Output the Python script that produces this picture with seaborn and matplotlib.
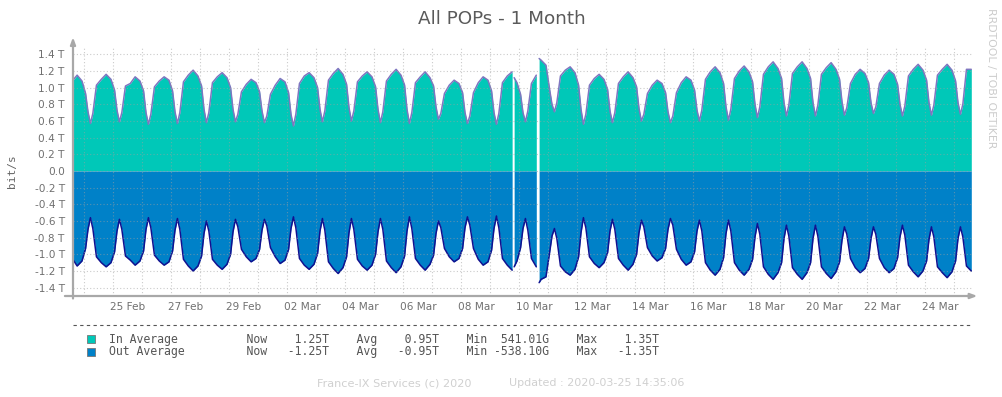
import numpy as np
import pandas as pd
import matplotlib
matplotlib.use("Agg")
import matplotlib.pyplot as plt
import matplotlib.dates as mdates
from matplotlib.lines import Line2D
from matplotlib.patches import Rectangle
import seaborn as sns

# sample hours inside each day
HOURS = [1, 3, 5, 7, 10, 14, 18, 22]

# first partial day (Feb 23) and last partial day (Mar 25)
FIRST_DAY = "2020-02-23"
FIRST_HOURS = [14, 18, 22]
IN_FIRST = [1.08, 1.15, 1.08]
OUT_FIRST = [-1.05, -1.14, -1.08]

LAST_DAY = "2020-03-25"
LAST_HOURS = [1, 3, 5, 7, 10, 14]
IN_LAST = [1.08, 0.82, 0.68, 0.80, 1.22, 1.22]
OUT_LAST = [-1.08, -0.81, -0.67, -0.79, -1.14, -1.20]

# full days Feb 24 .. Mar 24, values in Tbit/s
FULL_DAYS = pd.date_range("2020-02-24", "2020-03-24", freq="D")
IN_DAYS = [
    [0.93, 0.71, 0.57, 0.69, 1.03, 1.10, 1.16, 1.10],  # 24 Feb
    [0.97, 0.73, 0.59, 0.70, 1.02, 1.05, 1.13, 1.08],
    [0.96, 0.70, 0.56, 0.68, 1.01, 1.08, 1.13, 1.09],
    [0.96, 0.71, 0.57, 0.70, 1.07, 1.15, 1.21, 1.14],
    [1.02, 0.74, 0.58, 0.70, 1.06, 1.13, 1.18, 1.12],
    [1.00, 0.74, 0.59, 0.68, 0.95, 1.04, 1.10, 1.06],  # 29 Feb
    [0.95, 0.72, 0.58, 0.66, 0.92, 1.03, 1.11, 1.07],
    [0.94, 0.68, 0.54, 0.68, 1.05, 1.14, 1.18, 1.12],
    [1.00, 0.74, 0.59, 0.72, 1.09, 1.17, 1.23, 1.16],
    [1.04, 0.76, 0.60, 0.72, 1.07, 1.14, 1.19, 1.13],
    [1.01, 0.74, 0.58, 0.71, 1.08, 1.16, 1.22, 1.15],  # 05 Mar
    [1.03, 0.74, 0.57, 0.70, 1.06, 1.13, 1.19, 1.12],
    [1.02, 0.77, 0.62, 0.69, 0.93, 1.03, 1.09, 1.05],
    [0.94, 0.70, 0.57, 0.66, 0.94, 1.06, 1.13, 1.09],
    [0.96, 0.70, 0.56, 0.69, 1.06, 1.14, 1.19, 1.06],
    [0.92, 0.70, 0.59, 0.72, 1.05, 1.15, 1.33, 1.27],  # 10 Mar
    [0.98, 0.80, 0.71, 0.82, 1.14, 1.21, 1.25, 1.18],
    [1.03, 0.74, 0.56, 0.68, 1.03, 1.11, 1.16, 1.10],
    [0.98, 0.72, 0.58, 0.70, 1.05, 1.13, 1.19, 1.12],
    [1.01, 0.75, 0.60, 0.68, 0.93, 1.03, 1.09, 1.05],
    [0.94, 0.71, 0.58, 0.66, 0.94, 1.06, 1.13, 1.09],  # 15 Mar
    [0.97, 0.73, 0.60, 0.73, 1.10, 1.19, 1.25, 1.18],
    [1.05, 0.77, 0.61, 0.74, 1.11, 1.20, 1.26, 1.19],
    [1.07, 0.80, 0.64, 0.77, 1.16, 1.25, 1.31, 1.23],
    [1.11, 0.82, 0.66, 0.79, 1.17, 1.25, 1.31, 1.23],
    [1.11, 0.82, 0.66, 0.79, 1.16, 1.24, 1.30, 1.22],  # 20 Mar
    [1.10, 0.83, 0.67, 0.76, 1.05, 1.16, 1.22, 1.17],
    [1.06, 0.82, 0.69, 0.77, 1.05, 1.15, 1.21, 1.16],
    [1.04, 0.80, 0.66, 0.78, 1.14, 1.22, 1.28, 1.21],
    [1.09, 0.82, 0.67, 0.79, 1.15, 1.22, 1.28, 1.21],  # 24 Mar
]
OUT_DAYS = [
    [-0.93, -0.70, -0.56, -0.69, -1.03, -1.10, -1.15, -1.10],  # 24 Feb
    [-0.97, -0.72, -0.58, -0.70, -1.02, -1.07, -1.13, -1.08],
    [-0.96, -0.70, -0.56, -0.68, -1.01, -1.08, -1.13, -1.09],
    [-0.96, -0.71, -0.57, -0.70, -1.06, -1.14, -1.20, -1.14],
    [-1.02, -0.75, -0.60, -0.72, -1.06, -1.13, -1.18, -1.12],
    [-1.00, -0.73, -0.58, -0.67, -0.94, -1.03, -1.09, -1.05],  # 29 Feb
    [-0.94, -0.71, -0.58, -0.66, -0.92, -1.03, -1.11, -1.07],
    [-0.94, -0.69, -0.55, -0.68, -1.05, -1.13, -1.18, -1.12],
    [-0.99, -0.72, -0.57, -0.71, -1.09, -1.17, -1.23, -1.16],
    [-1.03, -0.74, -0.57, -0.70, -1.06, -1.14, -1.19, -1.13],
    [-1.00, -0.73, -0.57, -0.70, -1.08, -1.16, -1.22, -1.15],  # 05 Mar
    [-1.02, -0.72, -0.55, -0.69, -1.05, -1.13, -1.19, -1.12],
    [-1.01, -0.75, -0.60, -0.68, -0.93, -1.03, -1.09, -1.05],
    [-0.93, -0.68, -0.55, -0.65, -0.93, -1.06, -1.13, -1.09],
    [-0.95, -0.69, -0.54, -0.68, -1.05, -1.13, -1.19, -1.08],
    [-0.92, -0.69, -0.57, -0.71, -1.05, -1.15, -1.30, -1.27],  # 10 Mar
    [-0.98, -0.78, -0.69, -0.81, -1.14, -1.21, -1.25, -1.18],
    [-1.03, -0.74, -0.56, -0.68, -1.03, -1.11, -1.16, -1.10],
    [-0.98, -0.72, -0.58, -0.70, -1.05, -1.13, -1.19, -1.12],
    [-1.00, -0.74, -0.59, -0.67, -0.92, -1.02, -1.08, -1.04],
    [-0.93, -0.70, -0.57, -0.65, -0.94, -1.06, -1.13, -1.09],  # 15 Mar
    [-0.97, -0.72, -0.59, -0.72, -1.10, -1.19, -1.25, -1.18],
    [-1.04, -0.75, -0.59, -0.72, -1.10, -1.19, -1.25, -1.18],
    [-1.06, -0.79, -0.63, -0.76, -1.15, -1.24, -1.30, -1.22],
    [-1.10, -0.81, -0.65, -0.78, -1.16, -1.24, -1.30, -1.22],
    [-1.10, -0.81, -0.65, -0.78, -1.15, -1.23, -1.29, -1.21],  # 20 Mar
    [-1.09, -0.83, -0.67, -0.76, -1.05, -1.16, -1.22, -1.17],
    [-1.05, -0.81, -0.67, -0.76, -1.05, -1.16, -1.22, -1.17],
    [-1.04, -0.79, -0.65, -0.77, -1.13, -1.21, -1.27, -1.20],
    [-1.08, -0.82, -0.67, -0.79, -1.15, -1.22, -1.28, -1.21],  # 24 Mar
]

# points right after the two data gaps
EDGE_TIMES = ["2020-03-09 19:40", "2020-03-10 16:20"]
IN_EDGE = [1.12, 1.35]
OUT_EDGE = [-1.15, -1.34]

# missing data (start, end)
GAP_STARTS = ["2020-03-09 18:00", "2020-03-10 14:00"]
GAP_ENDS = ["2020-03-09 19:40", "2020-03-10 16:20"]

X_START = "2020-02-23 14:35"
X_END = "2020-03-25 14:35"

LEGEND_LINES = [
    "In Average          Now    1.25T    Avg    0.95T    Min  541.01G    Max    1.35T",
    "Out Average         Now   -1.25T    Avg   -0.95T    Min -538.10G    Max   -1.35T",
]

IN_FILL = "#00c8b8"
OUT_FILL = "#0081c8"
IN_LINE = "#7f76c0"
OUT_LINE = "#111190"
AXIS_GREY = "#a8a8a8"


def build_frame():
    rows = []
    for h, vi, vo in zip(FIRST_HOURS, IN_FIRST, OUT_FIRST):
        rows.append((pd.Timestamp(FIRST_DAY) + pd.Timedelta(hours=h), vi, vo))
    for day, ins, outs in zip(FULL_DAYS, IN_DAYS, OUT_DAYS):
        for h, vi, vo in zip(HOURS, ins, outs):
            rows.append((day + pd.Timedelta(hours=h), vi, vo))
    for h, vi, vo in zip(LAST_HOURS, IN_LAST, OUT_LAST):
        rows.append((pd.Timestamp(LAST_DAY) + pd.Timedelta(hours=h), vi, vo))
    for t, vi, vo in zip(EDGE_TIMES, IN_EDGE, OUT_EDGE):
        rows.append((pd.Timestamp(t), vi, vo))
    df = pd.DataFrame(rows, columns=["time", "in_bps", "out_bps"]).sort_values("time")

    starts = pd.to_datetime(GAP_STARTS)
    ends = pd.to_datetime(GAP_ENDS)
    inside = np.zeros(len(df), dtype=bool)
    for s, e in zip(starts, ends):
        inside |= (df["time"] > s).values & (df["time"] < e).values
    df = df[~inside].copy()
    df["seg"] = np.searchsorted(ends.values, df["time"].values, side="right")
    return df.reset_index(drop=True)


def main():
    sns.set_style("white")
    plt.rcParams["font.family"] = ["DejaVu Sans"]

    df = build_frame()

    fig = plt.figure(figsize=(10.03, 3.97), dpi=100)
    ax = fig.add_axes([73 / 1003, 101 / 397, 899 / 1003, 250 / 397])

    for seg, g in df.groupby("seg"):
        ax.fill_between(g["time"], 0, g["in_bps"], color=IN_FILL, lw=0, zorder=1)
        ax.fill_between(g["time"], 0, g["out_bps"], color=OUT_FILL, lw=0, zorder=1)

    sns.lineplot(data=df, x="time", y="in_bps", units="seg", estimator=None,
                 color=IN_LINE, linewidth=1.1, ax=ax, zorder=2)
    sns.lineplot(data=df, x="time", y="out_bps", units="seg", estimator=None,
                 color=OUT_LINE, linewidth=1.1, ax=ax, zorder=2)

    ax.set_xlim(pd.Timestamp(X_START), pd.Timestamp(X_END))
    ax.set_ylim(-1.5, 1.5)
    ax.set_xlabel("")
    ax.set_ylabel("")

    # y axis
    yt = np.round(np.arange(-1.4, 1.41, 0.2), 1)
    ax.set_yticks(yt)
    ax.set_yticklabels(["0.0" if abs(v) < 1e-9 else f"{v:.1f} T" for v in yt])

    # x axis: ticks at midnight, labels at noon every two days
    ax.xaxis.set_major_locator(mdates.DayLocator())
    ax.xaxis.set_major_formatter(plt.NullFormatter())
    label_days = pd.date_range("2020-02-25 12:00", "2020-03-24 12:00", freq="2D")
    ax.xaxis.set_minor_locator(plt.FixedLocator(mdates.date2num(label_days)))
    ax.xaxis.set_minor_formatter(plt.FixedFormatter([d.strftime("%d %b") for d in label_days]))

    ax.tick_params(axis="x", which="major", length=3, width=1, color=AXIS_GREY, direction="inout")
    ax.tick_params(axis="x", which="minor", length=0, labelsize=7.6, labelcolor="#707070", pad=4)
    ax.tick_params(axis="y", length=3, width=1, color=AXIS_GREY, labelsize=7.6,
                   labelcolor="#707070", pad=3)

    ax.set_axisbelow(False)
    ax.grid(True, which="major", color="#a0a0a0", alpha=0.55, lw=0.8, linestyle=(0, (1, 2)))

    for side in ["top", "right", "left", "bottom"]:
        ax.spines[side].set_visible(False)

    # axis lines with arrows
    ax.annotate("", xy=(0, 1.035), xytext=(0, -0.01), xycoords="axes fraction",
                arrowprops=dict(arrowstyle="-|>,head_length=0.4,head_width=0.15",
                                color=AXIS_GREY, lw=1.6, shrinkA=0, shrinkB=0),
                annotation_clip=False)
    ax.annotate("", xy=(1.006, 0), xytext=(-0.009, 0), xycoords="axes fraction",
                arrowprops=dict(arrowstyle="-|>,head_length=0.4,head_width=0.15",
                                color=AXIS_GREY, lw=1.6, shrinkA=0, shrinkB=0),
                annotation_clip=False)

    # texts around the plot
    fig.text(0.5, 1 - 19 / 397, "All POPs - 1 Month", ha="center", va="center",
             fontsize=13.2, color="#5a5a5a")
    fig.text(12 / 1003, 1 - 171 / 397, "bit/s", rotation=90, ha="center", va="center",
             fontsize=8, color="#666666", family="DejaVu Sans Mono")
    fig.text(991 / 1003, 1 - 78 / 397, "RRDTOOL / TOBI OETIKER", rotation=270,
             ha="center", va="center", fontsize=7.8, color="#cccccc")

    # legend block
    fig.add_artist(Line2D([73 / 1003, 972 / 1003], [1 - 325 / 397] * 2, color="#555555",
                          lw=0.8, linestyle=(0, (3, 3))))
    for i, (txt, col) in enumerate(zip(LEGEND_LINES, [IN_FILL, OUT_FILL])):
        yc = 339 + 13 * i
        fig.add_artist(Rectangle((87 / 1003, 1 - (yc + 4) / 397), 8 / 1003, 8 / 397,
                                 facecolor=col, edgecolor="#777777", lw=0.6))
        fig.text(109 / 1003, 1 - yc / 397, txt, ha="left", va="center",
                 fontsize=8.3, color="#555555", family="DejaVu Sans Mono")

    fig.text(317 / 1003, 1 - 383 / 397, "France-IX Services (c) 2020", ha="left",
             va="center", fontsize=8.1, color="#d0d0d0")
    fig.text(509 / 1003, 1 - 383 / 397, "Updated : 2020-03-25 14:35:06", ha="left",
             va="center", fontsize=8.0, color="#d0d0d0")

    fig.savefig("out.png", dpi=100)
    plt.close(fig)


if __name__ == "__main__":
    main()
